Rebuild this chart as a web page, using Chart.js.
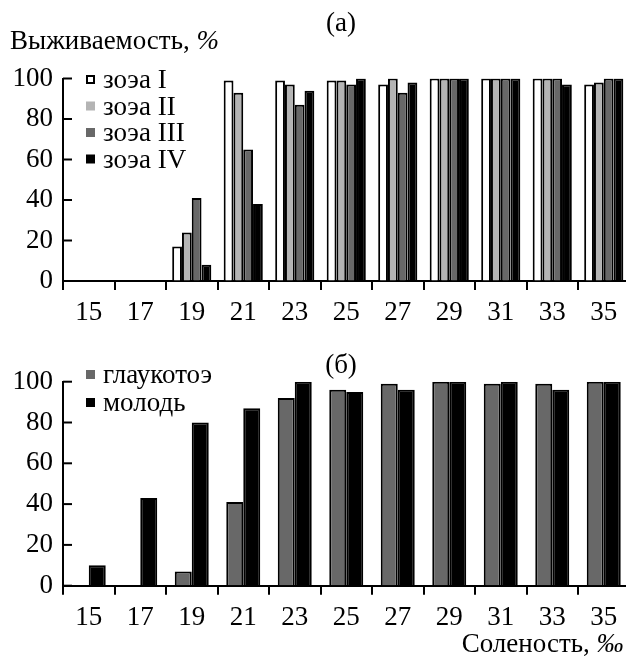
<!DOCTYPE html>
<html>
<head>
<meta charset="utf-8">
<script src="https://cdn.jsdelivr.net/npm/chart.js@4.4.1/dist/chart.umd.min.js"></script>
<style>
  html, body { margin: 0; padding: 0; background: #fff; }
  #wrap { position: relative; width: 626px; height: 664px; overflow: hidden; }
  canvas { position: absolute; left: 0; }
</style>
</head>
<body>
<div id="wrap">
  <canvas id="chart-a" width="660" height="330" style="top:0"></canvas>
  <canvas id="chart-b" width="660" height="334" style="top:330px"></canvas>
</div>
<script>
// salinity, ‰
var salinity = ["15", "17", "19", "21", "23", "25", "27", "29", "31", "33", "35"];
var yTicks = [0, 20, 40, 60, 80, 100];

// (a) survival of zoea stages, %
var zoeaI   = [0, 0, 17, 99, 99, 99, 97, 100, 100, 100, 97];
var zoeaII  = [0, 0, 24, 93, 97, 99, 100, 100, 100, 100, 98];
var zoeaIII = [0, 0, 41, 65, 87, 97, 93, 100, 100, 100, 100];
var zoeaIV  = [0, 0, 8, 38, 94, 100, 98, 100, 100, 97, 100];

// (б) glaucothoe and juveniles, %
var glaucothoe = [0, 0, 7, 41, 92, 96, 99, 100, 99, 99, 100];
var juveniles  = [10, 43, 80, 87, 100, 95, 96, 100, 100, 96, 100];

Chart.defaults.font.family = "'Liberation Serif', 'Times New Roman', serif";
Chart.defaults.font.size = 27;
Chart.defaults.color = "#000";

var FONT = "27px 'Liberation Serif', serif";
var FONT_I = "italic 27px 'Liberation Serif', serif";

// inward tick marks on the y axis + legend inside the plot + free texts
var decor = {
	id: 'decor',
	afterDraw: function(chart, args, opts) {
		var ctx = chart.ctx;
		var area = chart.chartArea;
		var y = chart.scales.y;
		ctx.save();
		ctx.strokeStyle = "#000";
		ctx.lineWidth = 2;
		yTicks.forEach(function(v) {
			var py = y.getPixelForValue(v);
			ctx.beginPath();
			ctx.moveTo(area.left, py);
			ctx.lineTo(area.left + 9, py);
			ctx.stroke();
		});

		// legend
		ctx.font = FONT;
		ctx.textBaseline = 'middle';
		ctx.textAlign = 'left';
		chart.data.datasets.forEach(function(ds, i) {
			var cy = opts.legendTop + i * opts.legendStep;
			ctx.fillStyle = ds.backgroundColor;
			ctx.fillRect(86, cy - 5, 9, 9);
			if (ds.backgroundColor === "#ffffff") {
				ctx.lineWidth = 2;
				ctx.strokeRect(87, cy - 4, 7, 7);
			}
			ctx.fillStyle = "#000";
			ctx.fillText(ds.label, 103, cy + 1);
		});

		// panel letter
		ctx.textAlign = 'center';
		ctx.fillText(opts.letter, 341, opts.letterY);

		// axis titles
		if (opts.yTitle) {
			ctx.textAlign = 'left';
			ctx.fillText(opts.yTitle, 10, 42);
			var w = ctx.measureText(opts.yTitle).width;
			ctx.font = FONT_I;
			ctx.fillText("%", 10 + w, 42);
		}
		if (opts.xTitle) {
			ctx.font = FONT_I;
			var wi = ctx.measureText("‰").width;
			ctx.textAlign = 'right';
			ctx.fillText("‰", area.right - 6, opts.xTitleY);
			ctx.font = FONT;
			ctx.fillText(opts.xTitle, area.right - 6 - wi, opts.xTitleY);
		}
		ctx.restore();
	}
};

function makeScales(canvasHeight, axisBottom) {
	return {
		x: {
			offset: true,
			grid: {
				offset: true,
				drawOnChartArea: false,
				drawTicks: true,
				tickLength: 9,
				color: "#000",
				lineWidth: 2
			},
			border: { display: true, color: "#000", width: 2 },
			ticks: { padding: 7, maxRotation: 0, autoSkip: false },
			afterFit: function(s) { s.height = canvasHeight - axisBottom; }
		},
		y: {
			min: 0,
			max: 100,
			afterBuildTicks: function(s) {
				s.ticks = yTicks.map(function(v) { return { value: v }; });
			},
			grid: { drawOnChartArea: false, drawTicks: false },
			border: { display: true, color: "#000", width: 2 },
			ticks: { padding: 10 },
			afterFit: function(s) { s.width = 63; }
		}
	};
}

function bar(label, data, color) {
	return {
		label: label,
		data: data,
		backgroundColor: color,
		borderColor: "#000",
		borderWidth: 2
	};
}

new Chart(document.getElementById("chart-a"), {
	type: 'bar',
	data: {
		labels: salinity,
		datasets: [
			bar("зоэа I", zoeaI, "#ffffff"),
			bar("зоэа II", zoeaII, "#b4b4b4"),
			bar("зоэа III", zoeaIII, "#686868"),
			bar("зоэа IV", zoeaIV, "#000000")
		]
	},
	plugins: [decor],
	options: {
		responsive: false,
		animation: false,
		categoryPercentage: 0.76,
		barPercentage: 1.0,
		layout: { padding: { top: 78.5, left: 0, right: 30.5, bottom: 0 } },
		plugins: {
			legend: { display: false },
			tooltip: { enabled: false },
			decor: {
				legendTop: 80, legendStep: 26.5,
				letter: "(а)", letterY: 24,
				yTitle: "Выживаемость, "
			}
		},
		scales: makeScales(330, 281)
	}
});

new Chart(document.getElementById("chart-b"), {
	type: 'bar',
	data: {
		labels: salinity,
		datasets: [
			bar("глаукотоэ", glaucothoe, "#686868"),
			bar("молодь", juveniles, "#000000")
		]
	},
	plugins: [decor],
	options: {
		responsive: false,
		animation: false,
		categoryPercentage: 0.66,
		barPercentage: 1.0,
		layout: { padding: { top: 51.7, left: 0, right: 30.5, bottom: 0 } },
		plugins: {
			legend: { display: false },
			tooltip: { enabled: false },
			decor: {
				legendTop: 45, legendStep: 28,
				letter: "(б)", letterY: 36,
				xTitle: "Соленость, ", xTitleY: 315
			}
		},
		scales: makeScales(334, 255.7)
	}
});
</script>
</body>
</html>
